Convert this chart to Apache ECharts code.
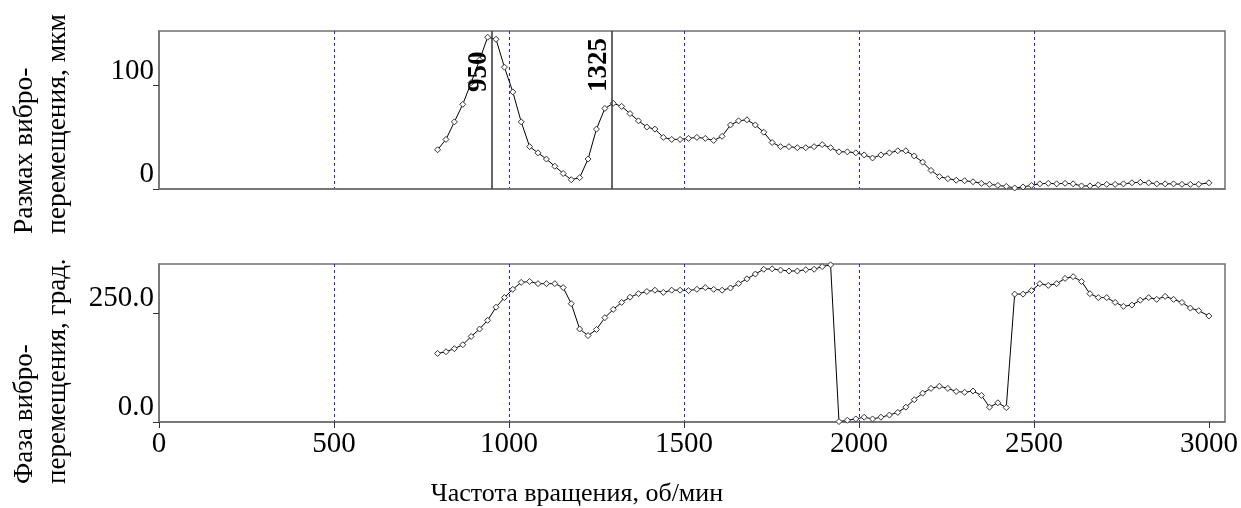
<!DOCTYPE html>
<html><head><meta charset="utf-8">
<script src="https://cdn.jsdelivr.net/npm/echarts@6/dist/echarts.min.js"></script>
<style>html,body{margin:0;padding:0;background:#fff}#c{width:1241px;height:508px}</style>
</head><body><div id="c"></div>
<script>
const rpm = [796,820,844,868,892,916,939,963,987,1011,
  1035,1059,1083,1107,1131,1155,1178,1202,1226,1250,
  1274,1298,1322,1346,1370,1394,1417,1441,1465,1489,
  1513,1537,1561,1585,1609,1633,1656,1680,1704,1728,
  1752,1776,1800,1824,1848,1872,1895,1919,1943,1967,
  1991,2015,2039,2063,2087,2111,2134,2158,2182,2206,
  2230,2254,2278,2302,2326,2350,2373,2397,2421,2445,
  2469,2493,2517,2541,2565,2589,2612,2636,2660,2684,
  2708,2732,2756,2780,2804,2828,2851,2875,2899,2923,
  2947,2971,3000];
const amplitude = [38,48,65,82,103,125,147,145,118,94,
  65,41,35,29,22,15,9,11,29,58,
  78,83,80,73,66,60,58,50,48,48,
  49,50,49,47,51,62,66,67,62,55,
  45,41,41,40,40,41,43,40,36,36,
  35,33,30,33,35,37,37,32,26,18,
  12,10,8.5,8,7,5.5,4.5,3.5,2.5,1,
  2,3.5,5,5.5,5,5.5,5,3,3,4,
  4.5,4.5,5,6,6.5,6,5,5,5,4.5,
  4.5,4.5,6];
const phase = [157,161,168,177,196,213,233,263,285,304,
  320,322,317,317,317,308,271,213,198,212,
  239,258,274,286,294,299,302,297,302,302,
  301,304,308,304,302,307,317,328,339,350,
  351,348,346,346,349,350,356,360,1,4,
  7,11,7,11,16,22,34,51,66,77,
  82,77,70,68,71,61,34,44,33,293,
  293,301,317,313,317,329,333,322,294,285,
  285,274,265,268,279,285,281,288,281,274,
  261,255,243];
const xTicks = [0,500,1000,1500,2000,2500,3000];
const ampTicks = [0,100];
const phaseTicks = [0,250];
const markers = [{rpm:952,label:'950'},{rpm:1295,label:'1325'}];
const xName = 'Частота вращения, об/мин';
const ampName = ['Размах вибро-','перемещения, мкм'];
const phaseName = ['Фаза вибро-','перемещения, град.'];

const FF = '"Liberation Serif", "Times New Roman", serif';
const chart = echarts.init(document.getElementById('c'), null, {renderer:'canvas'});
const frame = '#707070';
function xAxisCfg(grid, labels){
  return {
    type:'value', gridIndex:grid, min:0, max:3046, interval:500,
    axisLine:{show:true, onZero:false, lineStyle:{color:frame, width:1.5}},
    axisTick:{show:labels, customValues:xTicks, length:6, lineStyle:{color:'#333', width:1}},
    axisLabel:{show:labels, customValues:xTicks, fontFamily:FF, fontSize:29, color:'#000', margin:8, formatter:v=>String(v)},
    splitLine:{show:true, showMinLine:false, showMaxLine:false, lineStyle:{color:'#2222ff', width:1, type:[3,3]}}
  };
}
function yAxisCfg(grid, max, ticks, fmt){
  return {
    type:'value', gridIndex:grid, min:0, max:max, interval:ticks[1]-ticks[0],
    axisLine:{show:true, lineStyle:{color:frame, width:1.5}},
    axisTick:{show:true, customValues:ticks, length:6, lineStyle:{color:'#333', width:1}},
    axisLabel:{customValues:ticks, fontFamily:FF, fontSize:29, color:'#000', margin:5, verticalAlign:'bottom', formatter:fmt},
    splitLine:{show:true, showMinLine:false, showMaxLine:false, lineStyle:{color:'#4d4dff', width:1, type:[3,3]}}
  };
}
const lineSeries = (xi, vals) => ({
  type:'line', xAxisIndex:xi, yAxisIndex:xi,
  data: rpm.map((r,i)=>[r, vals[i]]),
  symbol:'diamond', symbolSize:6, showAllSymbol:true,
  lineStyle:{color:'#000', width:1},
  itemStyle:{color:'#fff', borderColor:'#333', borderWidth:1},
  emphasis:{disabled:true}, z:3
});
const s0 = lineSeries(0, amplitude);
s0.markLine = {
  silent:true, symbol:['none','none'], animation:false,
  lineStyle:{color:'#333', width:1.5, type:'solid'},
  label:{show:true, position:'insideStartTop', distance:[97,0], fontFamily:FF, fontSize:27, fontWeight:'bold', color:'#000'},
  data: markers.map(m => ({xAxis:m.rpm, label:{formatter:m.label}}))
};
const s1 = lineSeries(1, phase);

chart.setOption({
  animation:false,
  backgroundColor:'#fff',
  grid:[
    {left:159, top:31, width:1066, height:158, show:true, borderColor:frame, borderWidth:1.5},
    {left:159, top:264, width:1066, height:158, show:true, borderColor:frame, borderWidth:1.5}
  ],
  xAxis:[xAxisCfg(0,false), xAxisCfg(1,true)],
  yAxis:[yAxisCfg(0,153,ampTicks,v=>String(v)), yAxisCfg(1,362,phaseTicks,v=>v.toFixed(1))],
  series:[s0, s1],
  graphic:[
    {type:'text', x:41.5, y:234, rotation:Math.PI/2, silent:true,
     style:{text:ampName.join('\n'), fontFamily:FF, fontSize:27.5, fill:'#000', align:'left', verticalAlign:'middle', lineHeight:33}},
    {type:'text', x:41.5, y:484, rotation:Math.PI/2, silent:true,
     style:{text:phaseName.join('\n'), fontFamily:FF, fontSize:27, fill:'#000', align:'left', verticalAlign:'middle', lineHeight:33}},
    {type:'text', x:577, y:494, silent:true,
     style:{text:xName, fontFamily:FF, fontSize:26, fill:'#000', align:'center', verticalAlign:'middle'}}
  ]
});
</script></body></html>
